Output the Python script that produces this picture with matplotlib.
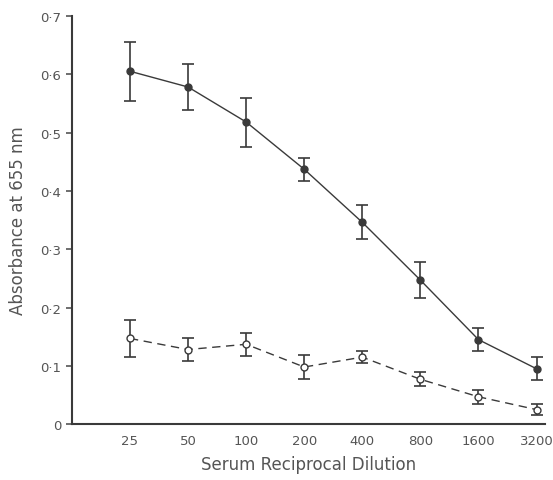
import matplotlib

matplotlib.use("Agg")
import matplotlib.pyplot as plt

dilutions = ["25", "50", "100", "200", "400", "800", "1600", "3200"]
immune_mean = [0.605, 0.578, 0.518, 0.437, 0.346, 0.247, 0.145, 0.095]
immune_err = [0.051, 0.040, 0.042, 0.020, 0.029, 0.031, 0.020, 0.020]
control_mean = [0.147, 0.128, 0.137, 0.098, 0.115, 0.077, 0.047, 0.025]
control_err = [0.032, 0.020, 0.020, 0.020, 0.010, 0.012, 0.012, 0.010]
yticks = [0, 0.1, 0.2, 0.3, 0.4, 0.5, 0.6, 0.7]
ytick_labels = ["0", "0·1", "0·2", "0·3", "0·4", "0·5", "0·6", "0·7"]

INK = "#3a3a3a"
TEXT = "#555555"

fig = plt.figure(figsize=(5.53, 4.81), dpi=100)
ax = fig.add_axes([0.130, 0.116, 0.856, 0.849])

xs = list(range(1, len(dilutions) + 1))
ax.errorbar(xs, immune_mean, yerr=immune_err, color=INK, linewidth=1.0,
            marker="o", markersize=5, markerfacecolor=INK, markeredgecolor=INK,
            capsize=4, elinewidth=1.2, capthick=1.2)
ax.errorbar(xs, control_mean, yerr=control_err, color=INK, linewidth=1.0,
            linestyle=(0, (6, 4)), marker="o", markersize=5,
            markerfacecolor="white", markeredgecolor=INK,
            capsize=4, elinewidth=1.2, capthick=1.2)

ax.set_xlim(0, 8.15)
ax.set_ylim(0, 0.7)
ax.set_xticks(xs)
ax.set_xticklabels(dilutions)
ax.set_yticks(yticks)
ax.set_yticklabels(ytick_labels)
ax.tick_params(axis="x", length=0, pad=7, labelsize=9.5, colors=TEXT)
ax.tick_params(axis="y", length=4, width=1.2, direction="out", labelsize=9.5,
               colors=TEXT)
for side in ("top", "right"):
    ax.spines[side].set_visible(False)
for side in ("left", "bottom"):
    ax.spines[side].set_color(INK)
    ax.spines[side].set_linewidth(1.5)

ax.set_xlabel("Serum Reciprocal Dilution", color=TEXT, fontsize=12, labelpad=6)
ax.set_ylabel("Absorbance at 655 nm", color=TEXT, fontsize=12, labelpad=10)

fig.savefig("out.png", dpi=100, facecolor="white")
